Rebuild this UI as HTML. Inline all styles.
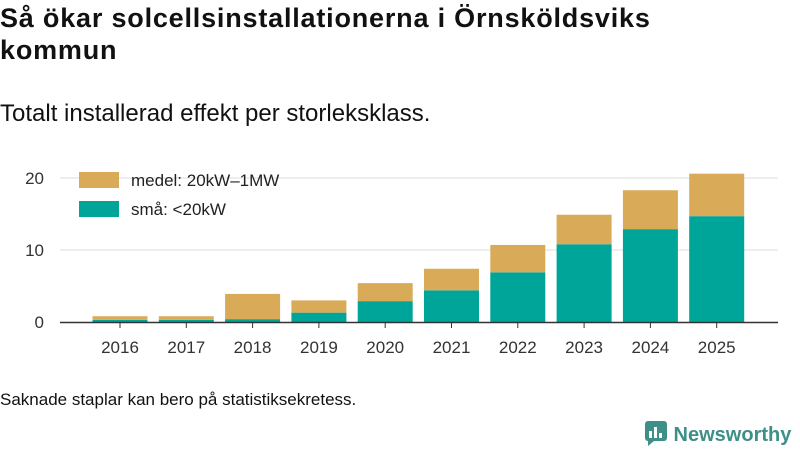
<!DOCTYPE html>
<html><head><meta charset="utf-8"><style>
body{margin:0;width:800px;height:450px;background:#fff;font-family:"Liberation Sans",sans-serif;color:#111;overflow:hidden;position:relative}
h1{position:absolute;left:0;top:2px;margin:0;font-size:27px;line-height:32px;font-weight:bold;width:720px;letter-spacing:0.8px}
.sub{position:absolute;left:0;top:100px;font-size:24px}
.note{position:absolute;left:0;top:390px;font-size:17px}
.logo{position:absolute;left:644px;top:420px;font-size:20px;font-weight:bold;color:#3d8f88;white-space:nowrap}
</style></head><body>
<h1>Så ökar solcellsinstallationerna i Örnsköldsviks kommun</h1>
<div class="sub">Totalt installerad effekt per storleksklass.</div>
<svg id="chart" width="800" height="450" style="position:absolute;left:0;top:0"></svg>
<div class="note">Saknade staplar kan bero på statistiksekretess.</div>
<div class="logo"><svg width="24" height="26" style="vertical-align:-5px"><rect x="1" y="1" width="22" height="20" rx="3" fill="#3d8f88"/><polygon points="4,21 10,21 4,26" fill="#3d8f88"/><rect x="5" y="11" width="3" height="7" fill="#fff"/><rect x="10" y="7" width="3" height="11" fill="#fff"/><rect x="15" y="13" width="3" height="5" fill="#fff"/></svg> Newsworthy</div>
<script>
const years=["2016","2017","2018","2019","2020","2021","2022","2023","2024","2025"];
const small=[0.3,0.3,0.4,1.3,2.9,4.4,6.9,10.8,12.9,14.7];
const medium=[0.5,0.5,3.5,1.7,2.5,3.0,3.8,4.1,5.4,5.9];
const yTicks=[0,10,20];
const NS="http://www.w3.org/2000/svg";
const svg=document.getElementById('chart');
const y=v=>322-v*7.2;
const x=i=>120+i*66.3;
function mk(t,a){const e=document.createElementNS(NS,t);for(const k in a)e.setAttribute(k,a[k]);svg.appendChild(e);return e;}
yTicks.forEach(v=>{
 if(v>0){const g=mk('line',{x1:60,x2:778,y1:y(v),y2:y(v),stroke:'#ddd','stroke-width':1});
 
 }
 const t=mk('text',{x:44,y:y(v)+6,'text-anchor':'end','font-size':17,fill:'#333','font-family':'Liberation Sans'});t.textContent=v;
 
 
});
years.forEach((yr,i)=>{
 const w=55,cx=x(i);
 const r1=mk('rect',{x:cx-w/2,y:y(small[i]),width:w,height:small[i]*7.2,fill:'#00a59a'});
 
 
 const r2=mk('rect',{x:cx-w/2,y:y(small[i]+medium[i]),width:w,height:medium[i]*7.2,fill:'#d9ab58'});
 
 
 const tk=mk('line',{x1:cx,x2:cx,y1:322,y2:328,stroke:'#333'});
 
 
 const t=mk('text',{x:cx,y:353,'text-anchor':'middle','font-size':17,fill:'#333','font-family':'Liberation Sans'});t.textContent=yr;
 
 
});
const ax=mk('line',{x1:60,x2:778,y1:322.5,y2:322.5,stroke:'#333','stroke-width':1.5});


[["medel: 20kW–1MW",'#d9ab58',172],["små: <20kW",'#00a59a',201]].forEach(([l,c,yy],k)=>{
 const r=mk('rect',{x:79,y:yy,width:40,height:16,fill:c});
 
 
 const t=mk('text',{x:131,y:yy+14,'font-size':17,fill:'#222','font-family':'Liberation Sans'});t.textContent=l;
 
 
});
</script>
</body></html>
